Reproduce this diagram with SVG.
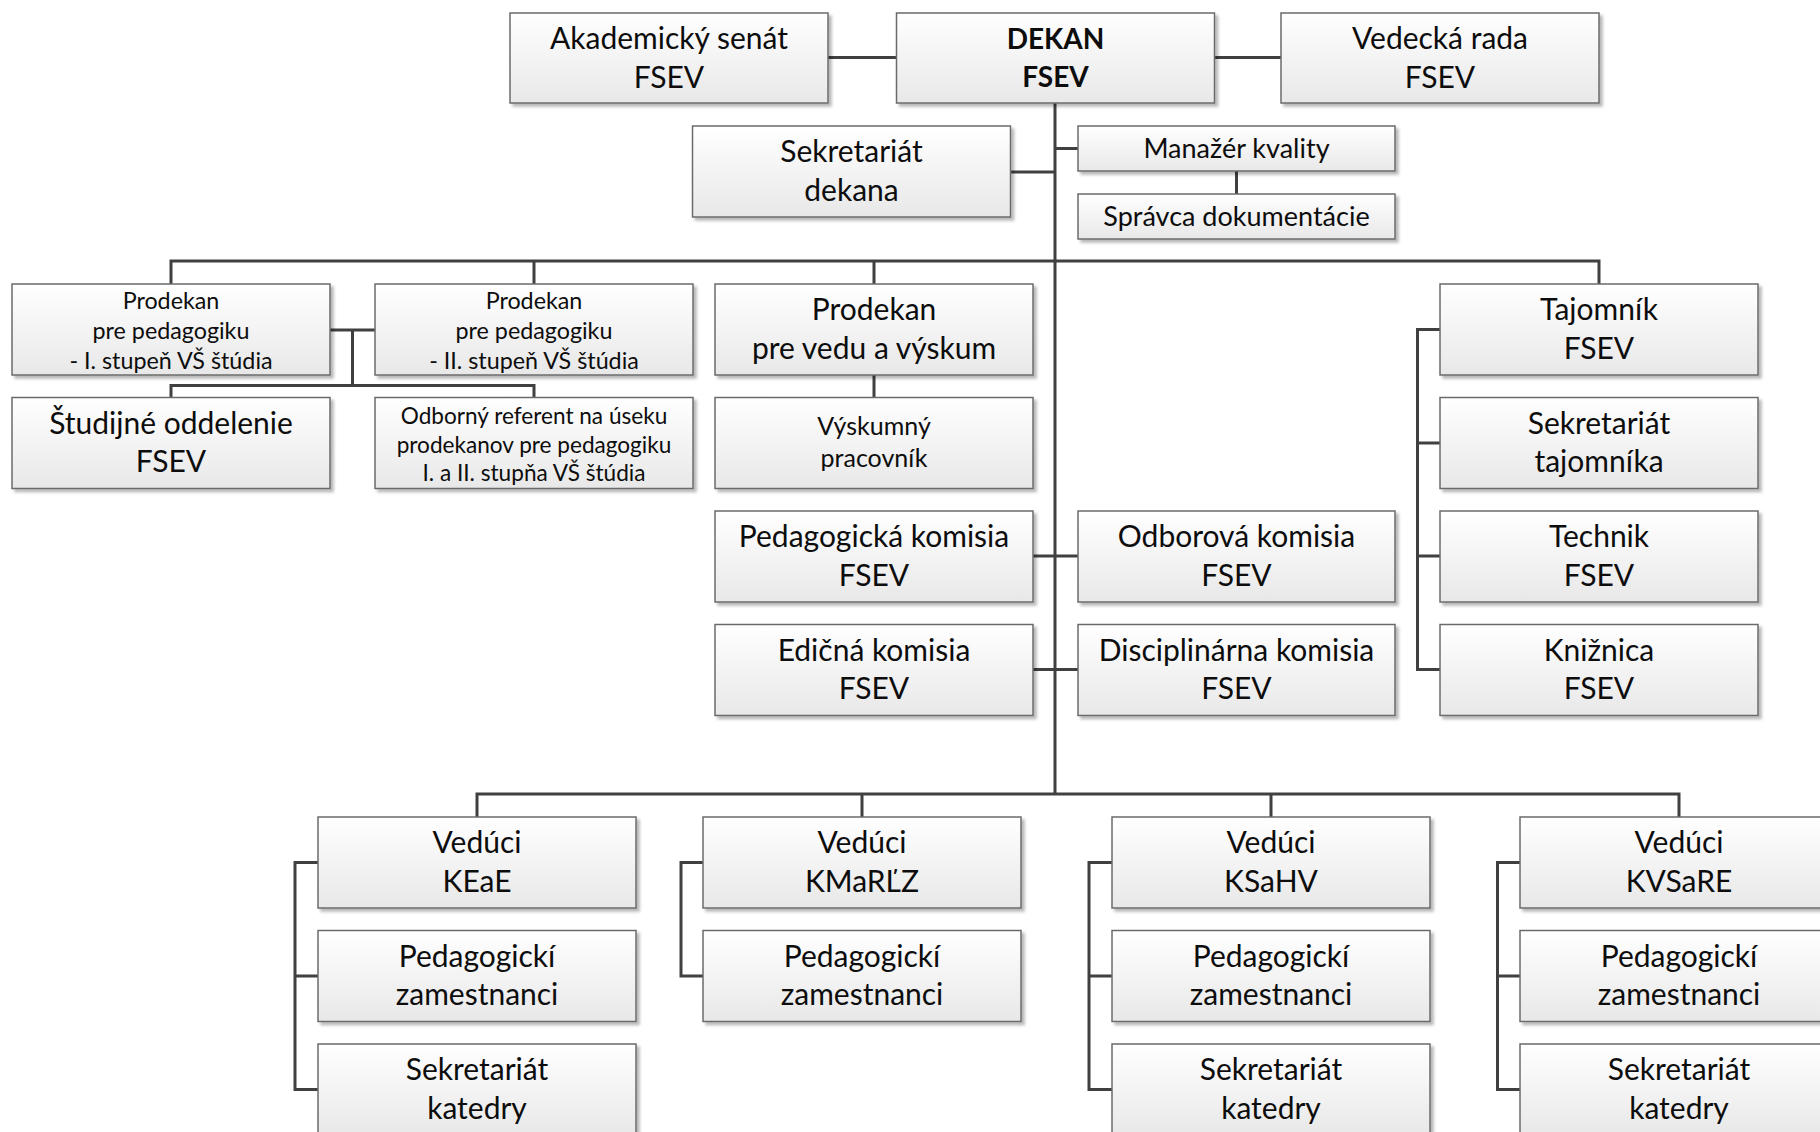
<svg xmlns="http://www.w3.org/2000/svg" width="1820" height="1132" viewBox="0 0 1820 1132">
<defs>
<linearGradient id="g" x1="0" y1="0" x2="0" y2="1">
<stop offset="0" stop-color="#ffffff"/>
<stop offset="1" stop-color="#e8e8e8"/>
</linearGradient>
<filter id="sh" x="-5%" y="-10%" width="115%" height="130%">
<feDropShadow dx="3" dy="3" stdDeviation="1.5" flood-color="#000" flood-opacity="0.28"/>
</filter>
<style>
.b{fill:url(#g);stroke:#6b6b6b;stroke-width:1.5;filter:url(#sh)}
.t{font-family:Lato,"Liberation Sans",sans-serif;text-anchor:middle;fill:#0d0d0d;font-size:30px}
.s{font-size:23.3px}
.r{font-size:22.6px}
.m{font-size:27px}
.v{font-size:25px}
.bold{font-weight:bold;font-size:28px}
.c{stroke:#404040;stroke-width:3;fill:none}
</style>
</defs>
<rect width="1820" height="1132" fill="#fff"/>

<g id="connectors" class="c">
<path d="M828,57.5H896.5M1214.5,57.5H1281"/>
<path d="M1055,103V794"/>
<path d="M1010.5,172H1055M1055,148.5H1078M1236.5,171V194"/>
<path d="M171,284V261H1599V284M534,261V284M874,261V284"/>
<path d="M330,330H375M352.5,330V385.5M171,397.5V385.5H534V397.5"/>
<path d="M874,375V397.5"/>
<path d="M1033,556H1078M1033,669.5H1078"/>
<path d="M1440,329.5H1417.5V669.5H1440M1417.5,443H1440M1417.5,556H1440"/>
<path d="M477,817V794H1679V817M862,794V817M1271,794V817"/>
<path d="M318,862.5H295V1089.5H318M295,976H318"/>
<path d="M703,862.5H681V976H703"/>
<path d="M1112,862.5H1089V1089.5H1112M1089,976H1112"/>
<path d="M1520,862.5H1497.5V1089.5H1520M1497.5,976H1520"/>
</g>

<g id="akademicky-senat"><rect class="b" x="510" y="13" width="318" height="90"/><text class="t" x="669" y="49">Akademický senát</text><text class="t" x="669" y="87.5">FSEV</text></g>
<g id="dekan"><rect class="b" x="896.5" y="13" width="318" height="90"/><text class="t bold" x="1055.5" y="48.5">DEKAN</text><text class="t bold" x="1055.5" y="87">FSEV</text></g>
<g id="vedecka-rada"><rect class="b" x="1281" y="13" width="318" height="90"/><text class="t" x="1440" y="49">Vedecká rada</text><text class="t" x="1440" y="87.5">FSEV</text></g>
<g id="sekretariat-dekana"><rect class="b" x="692.5" y="126" width="318" height="91"/><text class="t" x="851.5" y="162">Sekretariát</text><text class="t" x="851.5" y="200.5">dekana</text></g>
<g id="manazer-kvality"><rect class="b" x="1078" y="126" width="317" height="45"/><text class="t m" x="1236.5" y="158">Manažér kvality</text></g>
<g id="spravca-dokumentacie"><rect class="b" x="1078" y="194" width="317" height="45"/><text class="t m" x="1236.5" y="225.5">Správca dokumentácie</text></g>

<g id="prodekan-1"><rect class="b" x="12" y="284" width="318" height="91"/><text class="t s" x="171" y="308.5">Prodekan</text><text class="t s" x="171" y="338.5">pre pedagogiku</text><text class="t s" x="171" y="368.5">- I. stupeň VŠ štúdia</text></g>
<g id="prodekan-2"><rect class="b" x="375" y="284" width="318" height="91"/><text class="t s" x="534" y="308.5">Prodekan</text><text class="t s" x="534" y="338.5">pre pedagogiku</text><text class="t s" x="534" y="368.5">- II. stupeň VŠ štúdia</text></g>
<g id="prodekan-veda"><rect class="b" x="715" y="284" width="318" height="91"/><text class="t" x="874" y="320">Prodekan</text><text class="t" x="874" y="358.5">pre vedu a výskum</text></g>
<g id="tajomnik"><rect class="b" x="1440" y="284" width="318" height="91"/><text class="t" x="1599" y="320">Tajomník</text><text class="t" x="1599" y="358.5">FSEV</text></g>

<g id="studijne-oddelenie"><rect class="b" x="12" y="397.5" width="318" height="91"/><text class="t" x="171" y="433.5">Študijné oddelenie</text><text class="t" x="171" y="472">FSEV</text></g>
<g id="odborny-referent"><rect class="b" x="375" y="397.5" width="318" height="91"/><text class="t r" x="534" y="424">Odborný referent na úseku</text><text class="t r" x="534" y="452.5">prodekanov pre pedagogiku</text><text class="t r" x="534" y="481">I. a II. stupňa VŠ štúdia</text></g>
<g id="vyskumny-pracovnik"><rect class="b" x="715" y="397.5" width="318" height="91"/><text class="t v" x="874" y="435">Výskumný</text><text class="t v" x="874" y="466.5">pracovník</text></g>
<g id="sekretariat-tajomnika"><rect class="b" x="1440" y="397.5" width="318" height="91"/><text class="t" x="1599" y="433.5">Sekretariát</text><text class="t" x="1599" y="472">tajomníka</text></g>

<g id="pedagogicka-komisia"><rect class="b" x="715" y="511" width="318" height="91"/><text class="t" x="874" y="547">Pedagogická komisia</text><text class="t" x="874" y="585.5">FSEV</text></g>
<g id="odborova-komisia"><rect class="b" x="1078" y="511" width="317" height="91"/><text class="t" x="1236.5" y="547">Odborová komisia</text><text class="t" x="1236.5" y="585.5">FSEV</text></g>
<g id="technik"><rect class="b" x="1440" y="511" width="318" height="91"/><text class="t" x="1599" y="547">Technik</text><text class="t" x="1599" y="585.5">FSEV</text></g>

<g id="edicna-komisia"><rect class="b" x="715" y="624.5" width="318" height="91"/><text class="t" x="874" y="660.5">Edičná komisia</text><text class="t" x="874" y="699">FSEV</text></g>
<g id="disciplinarna-komisia"><rect class="b" x="1078" y="624.5" width="317" height="91"/><text class="t" x="1236.5" y="660.5">Disciplinárna komisia</text><text class="t" x="1236.5" y="699">FSEV</text></g>
<g id="kniznica"><rect class="b" x="1440" y="624.5" width="318" height="91"/><text class="t" x="1599" y="660.5">Knižnica</text><text class="t" x="1599" y="699">FSEV</text></g>

<g id="veduci-keae"><rect class="b" x="318" y="817" width="318" height="91"/><text class="t" x="477" y="853">Vedúci</text><text class="t" x="477" y="891.5">KEaE</text></g>
<g id="ped-keae"><rect class="b" x="318" y="930.5" width="318" height="91"/><text class="t" x="477" y="966.5">Pedagogickí</text><text class="t" x="477" y="1005">zamestnanci</text></g>
<g id="sek-keae"><rect class="b" x="318" y="1044" width="318" height="91"/><text class="t" x="477" y="1080">Sekretariát</text><text class="t" x="477" y="1118.5">katedry</text></g>

<g id="veduci-kmarlz"><rect class="b" x="703" y="817" width="318" height="91"/><text class="t" x="862" y="853">Vedúci</text><text class="t" x="862" y="891.5">KMaRĽZ</text></g>
<g id="ped-kmarlz"><rect class="b" x="703" y="930.5" width="318" height="91"/><text class="t" x="862" y="966.5">Pedagogickí</text><text class="t" x="862" y="1005">zamestnanci</text></g>

<g id="veduci-ksahv"><rect class="b" x="1112" y="817" width="318" height="91"/><text class="t" x="1271" y="853">Vedúci</text><text class="t" x="1271" y="891.5">KSaHV</text></g>
<g id="ped-ksahv"><rect class="b" x="1112" y="930.5" width="318" height="91"/><text class="t" x="1271" y="966.5">Pedagogickí</text><text class="t" x="1271" y="1005">zamestnanci</text></g>
<g id="sek-ksahv"><rect class="b" x="1112" y="1044" width="318" height="91"/><text class="t" x="1271" y="1080">Sekretariát</text><text class="t" x="1271" y="1118.5">katedry</text></g>

<g id="veduci-kvsare"><rect class="b" x="1520" y="817" width="318" height="91"/><text class="t" x="1679" y="853">Vedúci</text><text class="t" x="1679" y="891.5">KVSaRE</text></g>
<g id="ped-kvsare"><rect class="b" x="1520" y="930.5" width="318" height="91"/><text class="t" x="1679" y="966.5">Pedagogickí</text><text class="t" x="1679" y="1005">zamestnanci</text></g>
<g id="sek-kvsare"><rect class="b" x="1520" y="1044" width="318" height="91"/><text class="t" x="1679" y="1080">Sekretariát</text><text class="t" x="1679" y="1118.5">katedry</text></g>
</svg>
